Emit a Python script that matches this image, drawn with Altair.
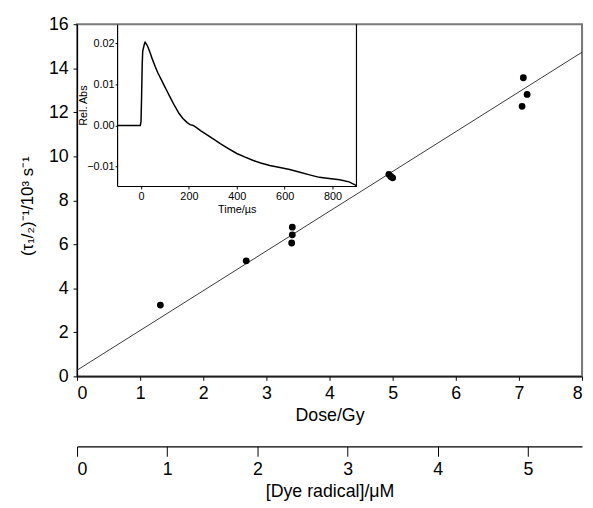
import altair as alt
import pandas as pd

# ---- main scatter data (Dose/Gy vs rate) ----
dose = [1.32, 2.68, 3.41, 3.41, 3.40, 4.94, 4.97, 5.00, 7.07, 7.13, 7.05]
rate = [3.24, 5.25, 6.78, 6.43, 6.06, 9.18, 9.08, 9.02, 13.57, 12.81, 12.27]

# ---- fitted line endpoints ----
fit_dose = [0, 8]
fit_rate = [0.28, 14.73]

# ---- frame extent ----
frame_dose = [8]
frame_rate = [0, 16]

# ---- secondary axis extent ([Dye radical]/uM) ----
dye_domain = [0, 5.6]

# ---- inset trace (Time/us vs Rel. Abs) ----
inset_t = [-100, -3, 0, 2, 5, 7, 10, 14, 17, 22, 28, 38, 48, 60, 70, 84, 97, 110,
           124, 140, 159, 175, 193, 205, 218, 232, 250, 276, 300, 331, 365, 400, 435,
           469, 500, 538, 580, 621, 660, 704, 745, 786, 830, 869, 890, 900]
inset_v = [0.0, 0.0, 0.001, 0.006, 0.015, 0.018, 0.0188, 0.0198, 0.0202, 0.0198,
           0.0192, 0.0177, 0.016, 0.0142, 0.0128, 0.0112, 0.0097, 0.0082, 0.0066,
           0.0048, 0.0029, 0.0017, 0.0007, 0.0002, 0.0, -0.0005, -0.0013, -0.0023,
           -0.0032, -0.0044, -0.0056, -0.0068, -0.0077, -0.0085, -0.0091, -0.0097,
           -0.0102, -0.0107, -0.0113, -0.0120, -0.0126, -0.0129, -0.0132, -0.0137,
           -0.0143, -0.0146]
inset_x_domain = [-100, 900]
inset_y_domain = [-0.0147, 0.0246]

W, H = 512, 357
FONT = "Liberation Sans"

pts_df = pd.DataFrame({"dose": dose, "rate": rate})
fit_df = pd.DataFrame({"dose": fit_dose, "rate": fit_rate})
frame_df = pd.DataFrame({"dose": frame_dose, "lo": [frame_rate[0]], "hi": [frame_rate[1]]})
dye_df = pd.DataFrame({"dye": dye_domain})
inset_df = pd.DataFrame({"t": inset_t, "v": inset_v})
border_df = pd.DataFrame({"t": [inset_x_domain[1]], "lo": [inset_y_domain[0]],
                          "hi": [inset_y_domain[1]]})

xs = alt.Scale(domain=[0, 8], nice=False, zero=False)
ys = alt.Scale(domain=[0, 16], nice=False, zero=False)

main_x_axis = alt.Axis(title="Dose/Gy", values=list(range(0, 9)), format="d",
                       tickSize=4, labelPadding=4, labelFontSize=18,
                       titleFontSize=18, titlePadding=5, domainWidth=1.2)
main_y_axis = alt.Axis(title="(τ₁/₂)⁻¹/10³ s⁻¹", values=list(range(0, 17, 2)),
                       format="d", tickSize=4, labelPadding=5, labelFontSize=18,
                       titleFontSize=17, titleX=-41, titleY=184,
                       domainWidth=1.2)

points = alt.Chart(pts_df).mark_circle(size=48, color="black", opacity=1).encode(
    x=alt.X("dose:Q", scale=xs, axis=main_x_axis),
    y=alt.Y("rate:Q", scale=ys, axis=main_y_axis),
)
fit = alt.Chart(fit_df).mark_line(color="#222222", strokeWidth=0.9).encode(
    x=alt.X("dose:Q", scale=xs),
    y=alt.Y("rate:Q", scale=ys),
)
frame = alt.Chart(frame_df).mark_rule(color="#7a7a7a", strokeWidth=2).encode(
    x=alt.X("dose:Q", scale=xs),
    y=alt.Y("lo:Q", scale=ys),
    y2="hi:Q",
)
main = alt.layer(frame, fit, points)

dye = alt.Chart(dye_df).mark_point(opacity=0).encode(
    x=alt.X("dye:Q", scale=alt.Scale(domain=dye_domain, nice=False, zero=False),
            axis=alt.Axis(title="[Dye radical]/μM", orient="bottom", offset=71,
                          values=[0, 1, 2, 3, 4, 5], format="d", tickSize=10,
                          labelPadding=5, labelFontSize=18, titleFontSize=18,
                          titlePadding=4, domainWidth=1.2)),
)

ix = alt.Scale(domain=inset_x_domain, range=[40.6, 283.3], nice=False, zero=False)
iy = alt.Scale(domain=inset_y_domain, range=[164, 0], nice=False, zero=False)

inset_line = alt.Chart(inset_df).mark_line(color="black", strokeWidth=1.5).encode(
    x=alt.X("t:Q", scale=ix,
            axis=alt.Axis(title="Time/µs", orient="bottom", offset=-(H - 164),
                          values=[0, 200, 400, 600, 800], tickSize=3,
                          labelPadding=2, labelFontSize=11, titleFontSize=11,
                          titlePadding=2, domainWidth=1.2)),
    y=alt.Y("v:Q", scale=iy,
            axis=alt.Axis(title="Rel. Abs", orient="left", offset=-40.6,
                          values=[-0.01, 0.0, 0.01, 0.02], format=".2f",
                          tickSize=2, labelPadding=1, labelFontSize=11,
                          titleFontSize=11, titleX=-29, titleY=82,
                          domainWidth=1.2)),
)
inset_border = alt.Chart(border_df).mark_rule(color="black", strokeWidth=1.2).encode(
    x=alt.X("t:Q", scale=ix),
    y=alt.Y("lo:Q", scale=iy),
    y2="hi:Q",
)
inset = alt.layer(inset_line, inset_border)

chart = alt.layer(main, dye, inset).resolve_scale(
    x="independent", y="independent"
).properties(
    width=W, height=H,
    autosize=alt.AutoSizeParams(type="none"),
    padding={"left": 70, "top": 13, "right": 3, "bottom": 130},
).configure_view(
    stroke="#7a7a7a", strokeWidth=2
).configure_axis(
    labelFont=FONT, titleFont=FONT, labelColor="black", titleColor="black",
    domainColor="black", tickColor="black", titleFontWeight="normal",
    grid=False,
)

chart.save("out.html", embed_options={"renderer": "svg", "actions": False})
